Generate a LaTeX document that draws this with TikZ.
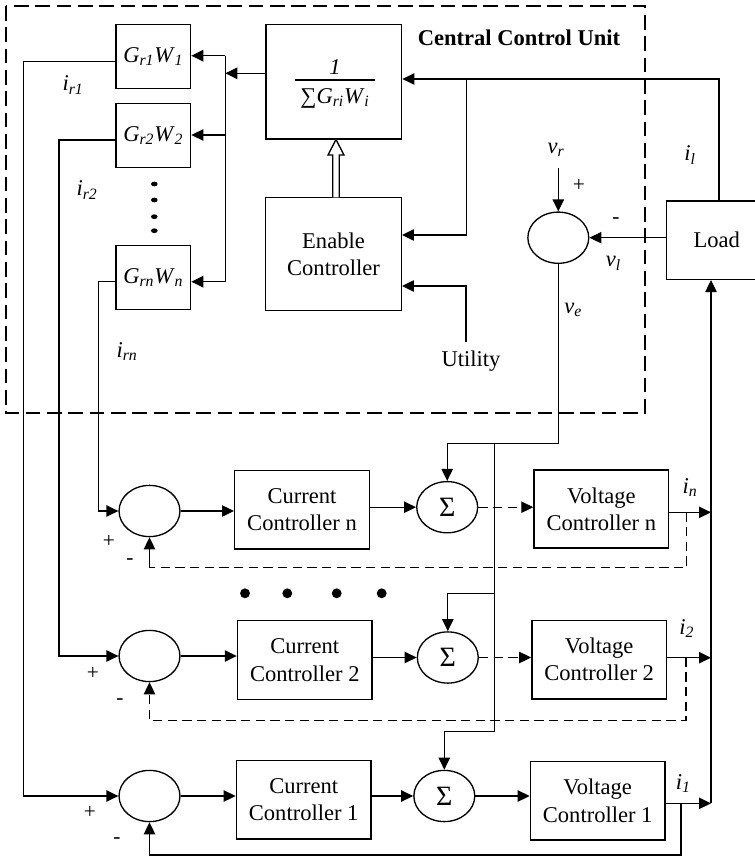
\documentclass[tikz,border=0pt]{standalone}
\usepackage{fontspec}
\setmainfont{Liberation Serif}
\usetikzlibrary{arrows.meta,shapes.geometric,calc}
\newcommand\sbx[1]{\textsubscript{\itshape #1}}
\begin{document}
\begin{tikzpicture}[x=0.75pt,y=-0.75pt,
 every node/.style={font=\fontsize{16.9}{20.5}\selectfont},
 box/.style={draw,line width=1pt,inner sep=0pt,align=center},
 sumc/.style={draw,ellipse,line width=1pt,inner sep=0pt,minimum width=45.7pt,minimum height=38.4pt},
 sigc/.style={sumc,font=\fontsize{21}{22}\selectfont},
 ln/.style={line width=1pt},
 arr/.style={line width=1pt,-{Triangle[length=9pt,width=8.5pt]}},
 dsh/.style={line width=1pt,dash pattern=on 7pt off 4pt},
 lbl/.style={inner sep=0pt,font=\fontsize{16.9}{20.5}\selectfont\itshape},
 sgn/.style={inner sep=0pt,font=\fontsize{16}{18}\selectfont}]
\useasboundingbox (0,0) rectangle (754,859);
% central control unit frame
\draw[line width=1.8pt,dash pattern=on 11pt off 5pt] (6,6) rectangle (645,413);
\node[font=\fontsize{16.9}{20}\selectfont\bfseries] (title) at (519,37.7) {Central Control Unit};
% G boxes
\node[box,minimum width=56pt,minimum height=48pt] (g1) at (153.3,56.3) {\textit{G}\sbx{r1}\textit{W}\sbx{1}};
\node[box,minimum width=56pt,minimum height=48pt] (g2) at (153.3,135.5) {\textit{G}\sbx{r2}\textit{W}\sbx{2}};
\node[box,minimum width=56pt,minimum height=48pt] (gn) at (153.3,277.3) {\textit{G}\sbx{rn}\textit{W}\sbx{n}};
\foreach \yy in {184,200,216.7,230.7} \fill (154.3,\yy) ellipse [x radius=2.5pt,y radius=1.8pt];
% fraction box
\node[box,minimum width=101.8pt,minimum height=86pt] (frac) at (333.8,81.7) {};
\node[lbl] (num) at (335,67) {1};
\draw[ln] (295,80) -- (375,80);
\node[inner sep=0pt] (den) at (335,98) {∑\textit{G}\sbx{ri}\textit{W}\sbx{i}};
% enable controller
\node[box,minimum width=101.7pt,minimum height=85pt] (en) at (333.5,254) {Enable\\Controller};
\draw[line width=1pt,fill=white] (332.7,197.3) -- (332.7,155) -- (328,155) -- (336,139.5) -- (344,155) -- (339.3,155) -- (339.3,197.3);
% bus to G boxes
\coordinate (bt) at (225.3,55.7);
\coordinate (bm) at (225.3,135);
\coordinate (bb) at (225.3,281.7);
\draw[arr] ([yshift=6.3pt]frac.west) -- ([yshift=6.3pt]frac.west -| bt);
\draw[ln] (bt) -- (bb);
\draw[arr] (bt) -- (bt -| g1.east);
\draw[arr] (bm) -- (bm -| g2.east);
\draw[arr] (bb) -- (bb -| gn.east);
% load (right side runs off the picture)
\node[box,minimum width=75pt,minimum height=58.7pt] (load) at (716.7,240.2) {Load};
\coordinate (lt) at (719,79);
\coordinate (br) at (466.7,79);
\draw[arr] (lt |- load.north) -- (lt) -- (lt -| frac.east);
\draw[arr] (br) |- ([yshift=14.25pt]en.east);
\node (ut) at (471,360.7) {Utility};
\coordinate (utl) at (466,342);
\draw[arr] (utl) |- ([yshift=-24pt]en.east);
% voltage error
\node[sumc] (ve) at (558.3,237.7) {};
\coordinate (vrt) at (558.3,168.3);
\draw[arr] (vrt) -- (ve.north);
\draw[arr] (load.west |- ve.east) -- (ve.east);
\node[lbl] (lvr) at (556,150) {v\sbx{r}};
\node[sgn] (pvr) at (579,185.7) {+};
\node[sgn] (mvr) at (616,220.7) {-};
\node[lbl] (lvl) at (613.3,263.3) {v\sbx{l}};
\node[lbl] (lve) at (573.3,310) {v\sbx{e}};
\node[lbl] (lil) at (690,155) {i\sbx{l}};
\node[lbl] (lir1) at (73,85) {i\sbx{r1}};
\node[lbl] (lir2) at (87,190) {i\sbx{r2}};
\node[lbl] (lirn) at (127,351.7) {i\sbx{rn}};
% lower loops
\node[sumc] (cn) at (149.5,511) {};
\node[sumc] (c2) at (149.5,656) {};
\node[sumc] (c1) at (149.5,796) {};
\node[box,minimum width=101pt,minimum height=59pt] (curn) at (302,509.8) {Current\\Controller n};
\node[box,minimum width=101pt,minimum height=59pt] (cur2) at (304.8,660) {Current\\Controller 2};
\node[box,minimum width=101pt,minimum height=59pt] (cur1) at (303.7,799.7) {Current\\Controller 1};
\node[sigc] (sn) at (447.2,507.2) {Σ};
\node[sigc] (s2) at (447.8,657.5) {Σ};
\node[sigc] (s1) at (444.3,796) {Σ};
\node[box,minimum width=101pt,minimum height=58.5pt] (vn) at (601.3,509) {Voltage\\Controller n};
\node[box,minimum width=101pt,minimum height=59pt] (v2) at (599.2,659.5) {Voltage\\Controller 2};
\node[box,minimum width=101pt,minimum height=59pt] (v1) at (597.7,800.8) {Voltage\\Controller 1};
% G outputs into summers
\draw[arr] ([yshift=-4pt]g1.west) -| (23.3,796) -- (c1.west);
\draw[arr] ([yshift=-3.4pt]g2.west) -| (59,656) -- (c2.west);
\draw[arr] ([yshift=-3pt]gn.west) -| (98.7,511) -- (cn.west);
% summer -> current controller -> sigma -> voltage controller
\draw[arr] (cn.east) -- (cn.east -| curn.west);
\draw[arr] (c2.east) -- (c2.east -| cur2.west);
\draw[arr] (c1.east) -- (c1.east -| cur1.west);
\draw[arr] (curn.east |- sn.west) -- (sn.west);
\draw[arr] (cur2.east |- s2.west) -- (s2.west);
\draw[arr] (cur1.east |- s1.west) -- (s1.west);
\draw[dsh,arr] (sn.east) -- (sn.east -| vn.west);
\draw[dsh,arr] (s2.east) -- (s2.east -| v2.west);
\draw[arr] (s1.east) -- (s1.east -| v1.west);
% ve distribution
\coordinate (ja) at (494.3,443.3);
\coordinate (jb) at (494.3,593.3);
\coordinate (jc) at (494.3,731.7);
\draw[arr] (ve.south) |- (ja) -| (sn.north);
\draw[ln] (ja) -- (jc);
\draw[arr] (jb) -| (s2.north);
\draw[arr] (jc) -| (s1.north);
% voltage controller outputs
\coordinate (vb) at (711,803.3);
\path ([yshift=-2.5pt]vn.east) coordinate (on);
\path ([yshift=1.35pt]v2.east) coordinate (o2);
\path ([yshift=-1.9pt]v1.east) coordinate (o1);
\draw[arr] (on) -- (on -| vb);
\draw[arr] (o2) -- (o2 -| vb);
\draw[arr] (o1) -- (o1 -| vb);
\draw[arr] (vb) -- (vb |- load.south);
\node[lbl] (lin) at (690,487.3) {i\sbx{n}};
\node[lbl] (li2) at (686.7,628.3) {i\sbx{2}};
\node[lbl] (li1) at (683.3,783.3) {i\sbx{1}};
% feedback paths
\coordinate (fn) at (686.7,512.3);
\coordinate (fnb) at (686.7,567.7);
\coordinate (f2) at (686,657.7);
\coordinate (f2b) at (686,720.7);
\coordinate (f1) at (681,803.3);
\coordinate (f1b) at (681,855);
\draw[dsh] (fn) -- (fnb) -- (fnb -| cn.south);
\draw[arr] (fnb -| cn.south) -- (cn.south);
\draw[dsh,arr] (f2) -- (f2b) -| (c2.south);
\draw[arr] (f1) -- (f1b) -| (c1.south);
% signs
\node[sgn] (pn) at (109,541.7) {+};
\node[sgn] (mn) at (130,561.7) {-};
\node[sgn] (p2) at (93,673) {+};
\node[sgn] (m2) at (120,701.7) {-};
\node[sgn] (p1) at (90,812.7) {+};
\node[sgn] (m1) at (117,840.7) {-};
% horizontal dots
\foreach \xx in {245,287.3,336.7,381.7} \fill (\xx,593.3) circle [radius=3.7pt];
\end{tikzpicture}
\end{document}
